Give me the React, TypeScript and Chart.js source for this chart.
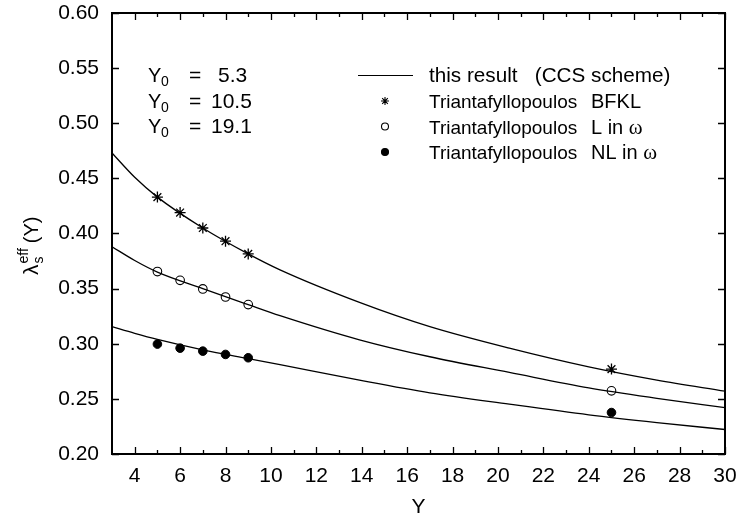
import React, { useEffect, useRef } from 'react';
import { Chart, registerables } from 'chart.js';

Chart.register(...registerables);

// ---- data ----
const curveX = [3, 4, 5, 7, 9, 10.4, 13.9, 17, 20.5, 24, 27, 30];
const curveBFKL = [0.473, 0.451, 0.433, 0.405, 0.3815, 0.367, 0.3375, 0.3155, 0.296, 0.279, 0.267, 0.257];
const curveL = [0.388, 0.3755, 0.365, 0.35, 0.3355, 0.3255, 0.3036, 0.2882, 0.274, 0.26, 0.2505, 0.242];
const curveNL = [0.3155, 0.3095, 0.304, 0.2945, 0.2865, 0.281, 0.267, 0.2555, 0.2452, 0.2355, 0.2285, 0.2222];

const pointX = [5, 6, 7, 8, 9, 25];
const pointsBFKL = [0.433, 0.419, 0.405, 0.393, 0.3815, 0.277];
const pointsL = [0.3655, 0.3575, 0.3497, 0.3424, 0.3355, 0.2573];
const pointsNL = [0.2997, 0.296, 0.2933, 0.2903, 0.2873, 0.2376];

const xTicks = [4, 6, 8, 10, 12, 14, 16, 18, 20, 22, 24, 26, 28, 30];
const xMinorTicks = [5, 7, 9, 11, 13, 15, 17, 19, 21, 23, 25, 27, 29];
const yTicks = [0.2, 0.25, 0.3, 0.35, 0.4, 0.45, 0.5, 0.55, 0.6];

const y0Values = ['5.3', '10.5', '19.1'];
const legendLine = 'this result   (CCS scheme)';
const legendName = 'Triantafyllopoulos';
const legendSuffix = ['BFKL', 'L in ', 'NL in '];
const legendOmega = ['', 'ω', 'ω'];

const FONT = "'Liberation Sans', Arial, Helvetica, sans-serif";
const SERIF = "'Liberation Serif', 'DejaVu Serif', serif";

const toXY = (xs: number[], ys: number[]) => xs.map((x, i) => ({ x, y: ys[i] }));

function drawMarker(ctx: CanvasRenderingContext2D, kind: number, x: number, y: number, r: number) {
  ctx.save();
  ctx.strokeStyle = '#000';
  ctx.fillStyle = '#000';
  ctx.lineWidth = 1.1;
  if (kind === 0) {
    ctx.beginPath();
    ctx.moveTo(x - r, y); ctx.lineTo(x + r, y);
    ctx.moveTo(x, y - r); ctx.lineTo(x, y + r);
    const d = r * 0.7071;
    ctx.moveTo(x - d, y - d); ctx.lineTo(x + d, y + d);
    ctx.moveTo(x - d, y + d); ctx.lineTo(x + d, y - d);
    ctx.stroke();
  } else {
    ctx.beginPath();
    ctx.arc(x, y, r, 0, Math.PI * 2);
    if (kind === 2) ctx.fill();
    ctx.stroke();
  }
  ctx.restore();
}

const decorPlugin = {
  id: 'decor',
  afterDraw(chart: any) {
    const ctx: CanvasRenderingContext2D = chart.ctx;
    const { left, right, top, bottom } = chart.chartArea;
    const xs = chart.scales.x;
    const ys = chart.scales.y;
    ctx.save();
    ctx.strokeStyle = '#000';
    ctx.lineWidth = 1.3;
    ctx.beginPath();
    xTicks.forEach((v) => {
      const px = Math.round(xs.getPixelForValue(v)) + 0.5;
      ctx.moveTo(px, bottom); ctx.lineTo(px, bottom - 7);
      ctx.moveTo(px, top); ctx.lineTo(px, top + 7);
    });
    xMinorTicks.forEach((v) => {
      const px = Math.round(xs.getPixelForValue(v)) + 0.5;
      ctx.moveTo(px, bottom); ctx.lineTo(px, bottom - 4);
      ctx.moveTo(px, top); ctx.lineTo(px, top + 4);
    });
    yTicks.forEach((v) => {
      const py = Math.round(ys.getPixelForValue(v)) + 0.5;
      ctx.moveTo(left, py); ctx.lineTo(left + 7, py);
      ctx.moveTo(right, py); ctx.lineTo(right - 7, py);
    });
    ctx.stroke();
    ctx.lineWidth = 2;
    ctx.strokeRect(left, top, right - left, bottom - top);

    // Y0 labels
    ctx.fillStyle = '#000';
    ctx.textBaseline = 'alphabetic';
    ctx.textAlign = 'left';
    y0Values.forEach((val, i) => {
      const by = 82 + i * 25.5;
      ctx.font = `20px ${FONT}`;
      ctx.fillText('Y', 148, by);
      ctx.font = `14px ${FONT}`;
      ctx.fillText('0', 161, by + 4);
      ctx.font = `21px ${FONT}`;
      ctx.fillText('=', 189, by);
      ctx.fillText(val, val.length > 3 ? 211 : 218, by);
    });

    // legend
    ctx.lineWidth = 1.2;
    ctx.beginPath();
    ctx.moveTo(358, 75.5); ctx.lineTo(413, 75.5);
    ctx.stroke();
    ctx.font = `20.7px ${FONT}`;
    ctx.fillText(legendLine, 429, 82);
    legendSuffix.forEach((s, i) => {
      const cy = 101 + i * 25.5;
      drawMarker(ctx, i, 385, cy, i === 0 ? 4 : 3.5);
      ctx.font = `19px ${FONT}`;
      ctx.fillText(legendName, 429, cy + 7);
      ctx.font = `20px ${FONT}`;
      ctx.fillText(s, 591, cy + 7);
      if (legendOmega[i]) {
        const w = ctx.measureText(s).width;
        ctx.font = `21px ${SERIF}`;
        ctx.fillText(legendOmega[i], 591 + w, cy + 7);
      }
    });

    // y axis title (rotated)
    ctx.translate(38, 236);
    ctx.rotate(-Math.PI / 2);
    ctx.textAlign = 'left';
    const x0 = -39;
    ctx.font = `21px ${FONT}`;
    ctx.fillText('λ', x0, 0);
    const wl = ctx.measureText('λ').width;
    ctx.font = `14px ${FONT}`;
    ctx.fillText('s', x0 + wl + 1, 5);
    const ws = ctx.measureText('s').width;
    ctx.fillText('eff', x0 + wl + 1, -10);
    const we = ctx.measureText('eff').width;
    ctx.font = `20px ${FONT}`;
    ctx.fillText('(Y)', x0 + wl + 1 + Math.max(ws, we) + 5, 0);
    ctx.restore();
  },
};

export default function App() {
  const ref = useRef<HTMLCanvasElement | null>(null);
  useEffect(() => {
    if (!ref.current) return;
    const lineDs = (data: number[]) => ({
      data: toXY(curveX, data),
      showLine: true,
      borderColor: '#000',
      borderWidth: 1.3,
      pointRadius: 0,
      cubicInterpolationMode: 'monotone' as const,
      fill: false,
    });
    const chart = new Chart(ref.current, {
      type: 'scatter',
      data: {
        datasets: [
          lineDs(curveBFKL),
          lineDs(curveL),
          lineDs(curveNL),
          {
            data: toXY(pointX, pointsBFKL),
            pointStyle: 'star',
            pointRadius: 5.5,
            borderColor: '#000',
            borderWidth: 1.3,
            backgroundColor: '#000',
          },
          {
            data: toXY(pointX, pointsL),
            pointStyle: 'circle',
            pointRadius: 4.3,
            borderColor: '#000',
            borderWidth: 1.1,
            backgroundColor: 'rgba(0,0,0,0)',
          },
          {
            data: toXY(pointX, pointsNL),
            pointStyle: 'circle',
            pointRadius: 4.3,
            borderColor: '#000',
            borderWidth: 1,
            backgroundColor: '#000',
          },
        ],
      },
      options: {
        animation: false,
        responsive: false,
        devicePixelRatio: 1,
        layout: { padding: { top: 13, right: 17, left: 0, bottom: 0 } },
        plugins: { legend: { display: false }, tooltip: { enabled: false } },
        scales: {
          x: {
            type: 'linear',
            min: 3,
            max: 30,
            grid: { display: false, drawTicks: false },
            border: { display: false },
            afterFit: (s: any) => { s.height = 63; s.paddingLeft = 0; s.paddingRight = 0; },
            afterBuildTicks: (s: any) => { s.ticks = xTicks.map((v) => ({ value: v })); },
            ticks: { color: '#000', font: { family: FONT, size: 21 }, padding: 10, maxRotation: 0, autoSkip: false },
            title: { display: true, text: 'Y', color: '#000', font: { family: FONT, size: 21 }, padding: { top: 0, bottom: -3 } },
          },
          y: {
            type: 'linear',
            min: 0.2,
            max: 0.6,
            grid: { display: false, drawTicks: false },
            border: { display: false },
            afterFit: (s: any) => { s.width = 112; s.paddingTop = 0; s.paddingBottom = 0; },
            afterBuildTicks: (s: any) => { s.ticks = yTicks.map((v) => ({ value: v })); },
            ticks: {
              color: '#000',
              font: { family: FONT, size: 21 },
              padding: 13,
              autoSkip: false,
              callback: (v: any) => Number(v).toFixed(2),
            },
          },
        },
      },
      plugins: [decorPlugin],
    });
    return () => chart.destroy();
  }, []);
  return (
    <div style={{ position: 'fixed', left: 0, top: 0, width: 742, height: 517, background: '#fff' }}>
      <canvas ref={ref} width={742} height={517} style={{ width: 742, height: 517, display: 'block' }} />
    </div>
  );
}
